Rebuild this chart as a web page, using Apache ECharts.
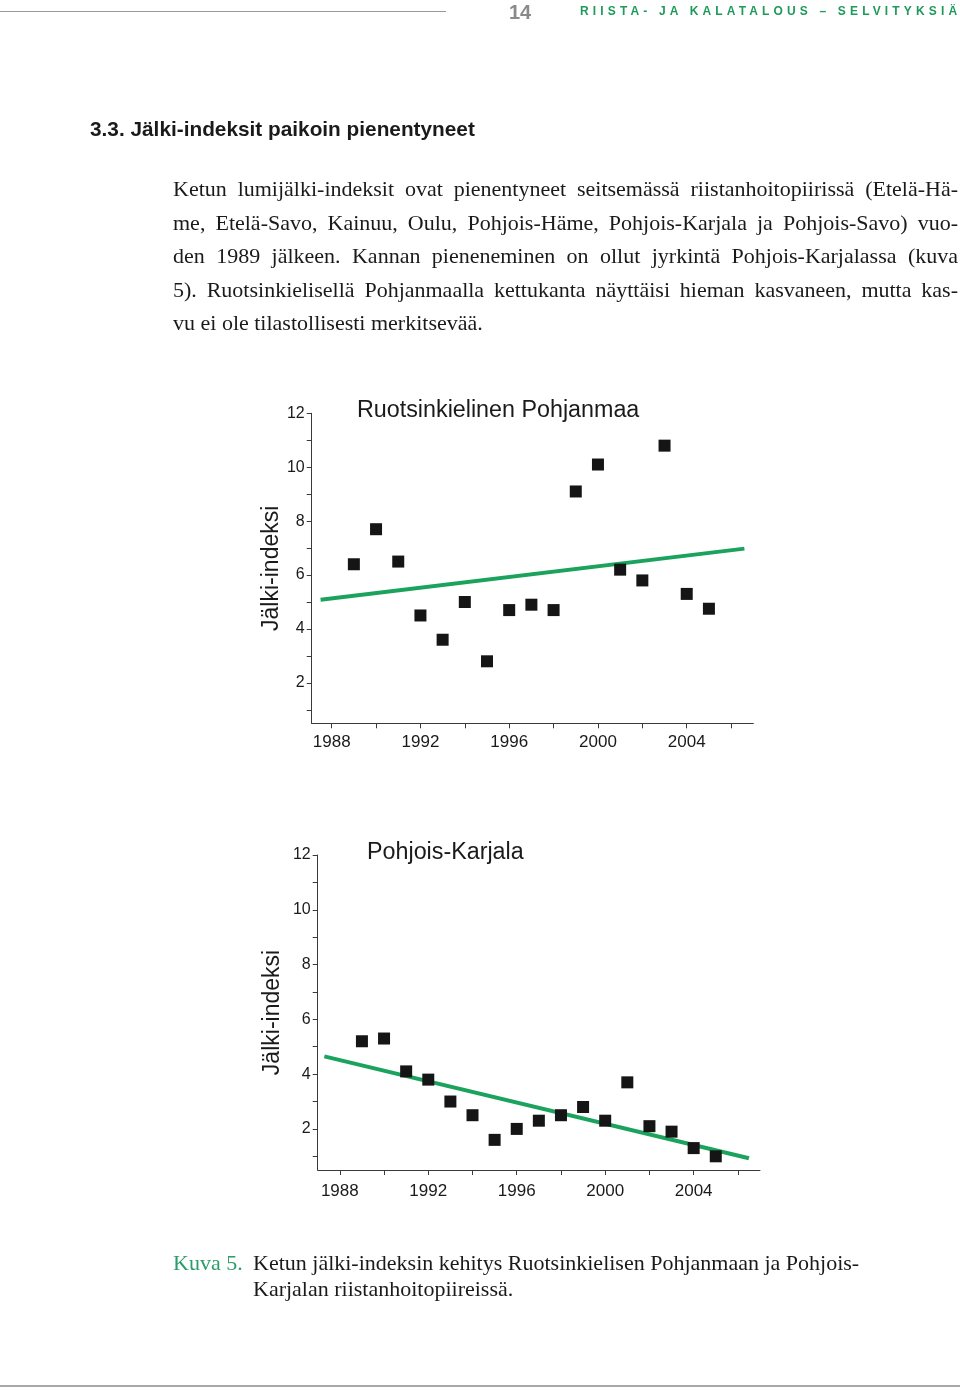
<!DOCTYPE html>
<html>
<head>
<meta charset="utf-8">
<script src="https://cdn.jsdelivr.net/npm/echarts@6/dist/echarts.min.js"></script>
<style>
  html, body { margin: 0; padding: 0; background: #fff; }
  #page { position: relative; width: 960px; height: 1391px; overflow: hidden; }
  #chart { position: absolute; left: 0; top: 0; width: 960px; height: 1391px; }
  .t { position: absolute; z-index: 2; white-space: nowrap; }
  .body { font-family: "Liberation Serif", "Times New Roman", serif; font-size: 22px; color: #1a1a1a; line-height: 33.5px; }
  .jl { width: 785px; text-align: justify; text-align-last: justify; white-space: normal; }
</style>
</head>
<body>
<div id="page">
  <div id="chart"></div>
  <div style="position:absolute;left:0;top:11px;width:446px;height:1px;background:#9a9a9a;z-index:2"></div>
  <div class="t" style="left:509px;top:1px;font-family:'Liberation Sans',Arial,sans-serif;font-weight:bold;font-size:20px;color:#8a8a8a;">14</div>
  <div class="t" style="left:580px;top:4px;font-family:'Liberation Sans',Arial,sans-serif;font-weight:bold;font-size:12px;letter-spacing:4.15px;color:#1f9a5b;">RIISTA- JA KALATALOUS – SELVITYKSIÄ</div>
  <div class="t" style="left:90px;top:117px;font-family:'Liberation Sans',Arial,sans-serif;font-weight:bold;font-size:20.8px;color:#1a1a1a;">3.3. Jälki-indeksit paikoin pienentyneet</div>
  <div class="t body" style="left:173px;top:172px;">
    <div class="jl">Ketun lumijälki-indeksit ovat pienentyneet seitsemässä riistanhoitopiirissä (Etelä-Hä-</div>
    <div class="jl">me, Etelä-Savo, Kainuu, Oulu, Pohjois-Häme, Pohjois-Karjala ja Pohjois-Savo) vuo-</div>
    <div class="jl">den 1989 jälkeen. Kannan pieneneminen on ollut jyrkintä Pohjois-Karjalassa (kuva</div>
    <div class="jl">5). Ruotsinkielisellä Pohjanmaalla kettukanta näyttäisi hieman kasvaneen, mutta kas-</div>
    <div>vu ei ole tilastollisesti merkitsevää.</div>
  </div>
  <div class="t body" style="left:173px;top:1250px;line-height:26px;">
    <span style="color:#2a9d6a;">Kuva 5.</span>
  </div>
  <div class="t body" style="left:253px;top:1250px;line-height:26px;">
    <div>Ketun jälki-indeksin kehitys Ruotsinkielisen Pohjanmaan ja Pohjois-</div>
    <div>Karjalan riistanhoitopiireissä.</div>
  </div>
  <div style="position:absolute;left:0;top:1385px;width:960px;height:2px;background:#a8a8a8;z-index:2"></div>
</div>
<script>
// ---- data ----
const years = [1989,1990,1991,1992,1993,1994,1995,1996,1997,1998,1999,2000,2001,2002,2003,2004,2005];
const ruotsValues = [6.4,7.7,6.5,4.5,3.6,5.0,2.8,4.7,4.9,4.7,9.1,10.1,6.2,5.8,10.8,5.3,4.75];
const karjalaValues = [5.2,5.3,4.1,3.8,3.0,2.5,1.6,2.0,2.3,2.5,2.8,2.3,3.7,2.1,1.9,1.3,1.0];
const ruotsTrendX = [1987.5, 2006.6];
const ruotsTrendY = [5.08, 6.98];
const karjalaTrendX = [1987.3, 2006.5];
const karjalaTrendY = [4.65, 0.93];
const xTickValues = [1988,1990,1992,1994,1996,1998,2000,2002,2004,2006];
const xLabelValues = [1988,1992,1996,2000,2004];
const yTickValues = [1,2,3,4,5,6,7,8,9,10,11,12];
const yLabelValues = [2,4,6,8,10,12];
const titles = ['Ruotsinkielinen Pohjanmaa', 'Pohjois-Karjala'];
const yName = 'Jälki-indeksi';

const pair = (xs, ys) => xs.map((x, i) => [x, ys[i]]);

const axisColor = '#3a3a3a';
const font = "'Liberation Sans', Arial, sans-serif";

function xAxis(gi, min, max, margin) {
  return {
    gridIndex: gi, type: 'value', min: min, max: max,
    axisLine: { show: true, onZero: false, lineStyle: { color: axisColor, width: 1 } },
    axisTick: { show: true, inside: false, length: 5, customValues: xTickValues, lineStyle: { color: axisColor } },
    axisLabel: { customValues: xLabelValues, formatter: v => String(v), margin: margin, fontSize: 17, fontFamily: font, color: '#1a1a1a' },
    splitLine: { show: false }
  };
}
function yAxis(gi, gap) {
  return {
    gridIndex: gi, type: 'value', min: 0.5, max: 12,
    name: yName, nameLocation: 'middle', nameRotate: 90, nameGap: gap,
    nameTextStyle: { fontSize: 23, fontFamily: font, color: '#1a1a1a' },
    axisLine: { show: true, onZero: false, lineStyle: { color: axisColor, width: 1 } },
    axisTick: { show: true, inside: false, length: 5, customValues: yTickValues, lineStyle: { color: axisColor } },
    axisLabel: { customValues: yLabelValues, formatter: v => String(v), margin: 7, fontSize: 16, fontFamily: font, color: '#1a1a1a' },
    splitLine: { show: false }
  };
}

const chart = echarts.init(document.getElementById('chart'), null, { renderer: 'canvas' });
chart.setOption({
  animation: false,
  backgroundColor: 'transparent',
  title: [
    { text: titles[0], left: 357, top: 399, padding: 0, textStyle: { fontSize: 23.3, fontWeight: 'normal', fontFamily: font, color: '#1a1a1a' } },
    { text: titles[1], left: 367, top: 841, padding: 0, textStyle: { fontSize: 23.3, fontWeight: 'normal', fontFamily: font, color: '#1a1a1a' } }
  ],
  grid: [
    { left: 311.7, top: 413.3, width: 441.6, height: 310, containLabel: false },
    { left: 317.7, top: 855, width: 442.3, height: 315, containLabel: false }
  ],
  xAxis: [xAxis(0, 1987.1, 2007, 10.5), xAxis(1, 1987.0, 2007, 12.5)],
  yAxis: [yAxis(0, 28), yAxis(1, 34)],
  series: [
    { type: 'line', xAxisIndex: 0, yAxisIndex: 0, data: pair(ruotsTrendX, ruotsTrendY), showSymbol: false, symbol: 'none',
      lineStyle: { color: '#1ba35e', width: 4 }, z: 2 },
    { type: 'scatter', xAxisIndex: 0, yAxisIndex: 0, data: pair(years, ruotsValues), symbol: 'rect', symbolSize: 12,
      itemStyle: { color: '#151515', opacity: 1 }, z: 3 },
    { type: 'line', xAxisIndex: 1, yAxisIndex: 1, data: pair(karjalaTrendX, karjalaTrendY), showSymbol: false, symbol: 'none',
      lineStyle: { color: '#1ba35e', width: 4 }, z: 2 },
    { type: 'scatter', xAxisIndex: 1, yAxisIndex: 1, data: pair(years, karjalaValues), symbol: 'rect', symbolSize: 12,
      itemStyle: { color: '#151515', opacity: 1 }, z: 3 }
  ]
});
</script>
</body>
</html>
